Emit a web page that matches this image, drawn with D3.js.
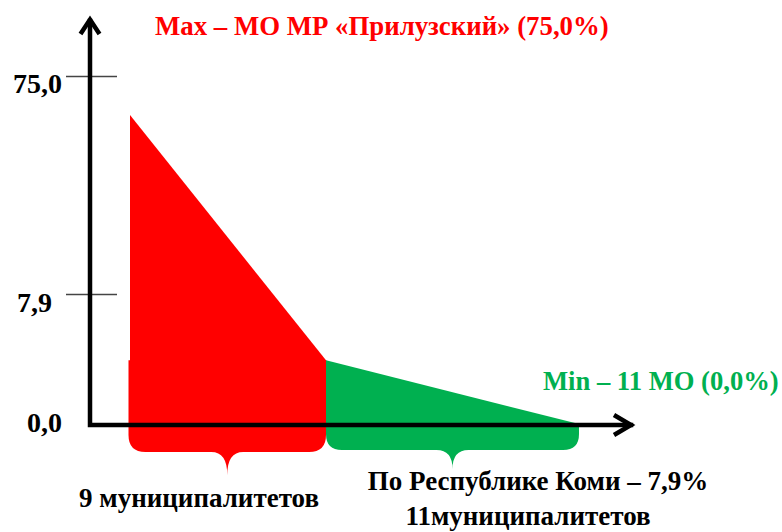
<!DOCTYPE html>
<html><head><meta charset="utf-8">
<script src="https://cdn.jsdelivr.net/npm/d3@7"></script>
<style>body{margin:0;background:#fff}svg{display:block}</style>
</head><body>
<svg id="c" width="782" height="532"></svg>
<script>
// Data
const tickValues = [0, 7.9, 75.0];
const tickLabels = ["0,0", "7,9", "75,0"];
const municipalityBounds = [0, 9, 20];            // 9 + 11 municipalities
const redSeries = [{i: 0, v: 63.0}, {i: 9, v: 3.9}];
const greenSeries = [{i: 9, v: 3.9}, {i: 20, v: 0.0}];
const groupLabels = [["9 муниципалитетов"], ["По Республике Коми – 7,9%", "11муниципалитетов"]];
const maxLabel = "Max – МО МР «Прилузский» (75,0%)";
const minLabel = "Min – 11 МО (0,0%)";

const RED = "#ff0000", GREEN = "#00b050";
const FONT = "Liberation Serif";
const svg = d3.select("#c");
const x = d3.scaleLinear().domain(municipalityBounds).range([130, 326, 583]);
const y = d3.scaleLinear().domain(tickValues).range([425, 294, 76]);

function label(txt, px, py, size, color, anchor) {
  return svg.append("text").attr("x", px).attr("y", py)
    .style("font-family", FONT).style("font-weight", "bold").style("font-size", size + "px")
    .attr("fill", color).attr("text-anchor", anchor || "start").text(txt);
}

// areas
const area = d3.area().x(d => x(d.i)).y0(y(0)).y1(d => y(d.v));
svg.append("path").datum(redSeries).attr("d", area).attr("fill", RED);
svg.append("path").datum(greenSeries).attr("d", area).attr("fill", GREEN);

// braces
function brace(x0, x1, top, bottom, tip, r, r2) {
  const m = (x0 + x1) / 2;
  const p = d3.path();
  p.moveTo(x0, top);
  p.lineTo(x0, bottom - r);
  p.quadraticCurveTo(x0, bottom, x0 + r, bottom);
  p.lineTo(m - r2, bottom);
  p.quadraticCurveTo(m, bottom, m, tip);
  p.quadraticCurveTo(m, bottom, m + r2, bottom);
  p.lineTo(x1 - r, bottom);
  p.quadraticCurveTo(x1, bottom, x1, bottom - r);
  p.lineTo(x1, top);
  p.closePath();
  return p.toString();
}
svg.append("path").attr("d", brace(x(0) - 1.5, x(9), y(3.9), 452, 475, 17, 16)).attr("fill", RED);
svg.append("path").attr("d", brace(x(9), 579, y(0) - 2, 450, 469, 16, 16)).attr("fill", GREEN);

// tick lines (axis)
const yAxis = d3.axisLeft(y).tickValues(tickValues.slice(1)).tickSize(51).tickFormat("");
const gAx = svg.append("g").attr("transform", "translate(117,0)").call(yAxis);
gAx.select(".domain").remove();
gAx.selectAll(".tick line").attr("stroke", "#444").attr("stroke-width", 1.5);

// tick labels
const labelX = [62, 52, 62], labelDy = [7, 18, 17];
tickValues.forEach((v, k) => label(tickLabels[k], labelX[k], y(v) + labelDy[k], 28, "#000", "end"));

// axes lines with arrows
const ax = svg.append("g").attr("stroke", "#000").attr("stroke-width", 4.5).attr("fill", "none")
  .attr("stroke-linecap", "square");
ax.append("path").attr("d", `M90,21 L90,${y(0)} L631,${y(0)}`).attr("stroke-linejoin", "miter");
ax.append("path").attr("d", "M80.5,34 L90,19.5 L99.5,34").attr("stroke-linecap", "butt");
ax.append("path").attr("d", `M614,${y(0) - 10} L631,${y(0)} L614,${y(0) + 10}`).attr("stroke-linecap", "butt");

// annotations
label(maxLabel, 155, 35, 26.8, RED);
label(minLabel, 543, 390, 26.6, GREEN);
label(groupLabels[0][0], 199, 507, 27, "#000", "middle");
label(groupLabels[1][0], 538, 490, 27, "#000", "middle");
label(groupLabels[1][1], 528, 525, 27, "#000", "middle");
</script>
</body></html>
